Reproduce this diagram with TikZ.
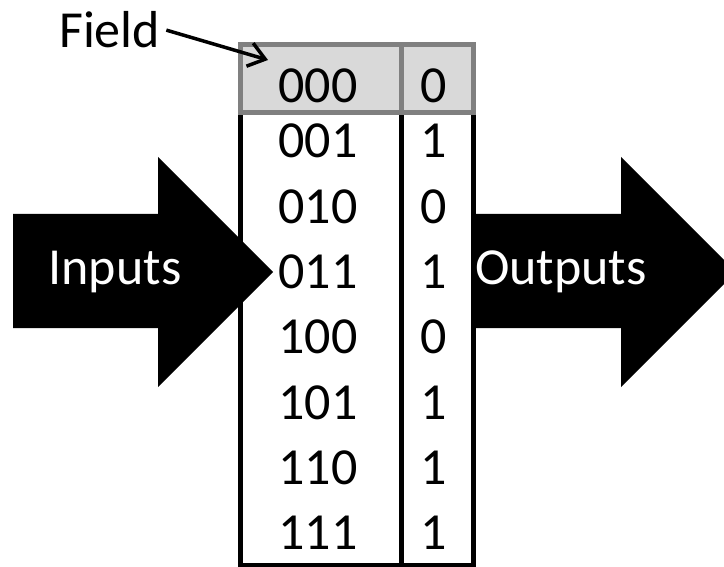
\documentclass[tikz,border=0pt]{standalone}
\usepackage{fontspec}
\setmainfont{Carlito}
\usetikzlibrary{arrows.meta}

\begin{document}
\begin{tikzpicture}[x = 1pt, y = -1pt,
    cellfont/.style = {font = \fontsize{52}{62}\selectfont, inner sep = 0pt, anchor = base},
    ]
    \useasboundingbox (0, 0) rectangle (724, 567);

    %%%%%%%%%% truth table %%%%%%%%%%%%%%%%%%%
    \draw [line width = 5pt, fill = white] (240, 113) rectangle (473, 565);
    \draw [line width = 5pt] (401, 113) -- (401, 565);
    % header row
    \draw [line width = 5pt, draw = black!50, fill = black!15] (240, 45) rectangle (473, 113);
    \draw [line width = 5pt, draw = black!50] (401, 45) -- (401, 113);
    \node [cellfont] (in0) at (318, 103) {000};
    \node [cellfont] (out0) at (434, 103) {0};

    \foreach \x/\y [count = \z] in {001/1, 010/0, 011/1, 100/0, 101/1, 110/1, 111/1} {
        \node [cellfont] (in\z) at (318, {158 + 65.3*(\z-1)}) {\x};
        \node [cellfont] (out\z) at (434, {158 + 65.3*(\z-1)}) {\y};
        }

    %%%%%%%%%% big arrows %%%%%%%%%%%%%%%%%%%
    \fill (13, 214) -- (158, 214) -- (158, 157) -- (273, 272) -- (158, 387) -- (158, 328) -- (13, 328) -- cycle;
    \node [cellfont, text = white] (inputs) at (115, 285) {Inputs};

    \fill (472, 214) -- (621, 214) -- (621, 157) -- (724, 260) -- (724, 284) -- (621, 387) -- (621, 328) -- (472, 328) -- cycle;
    \node [cellfont, text = white] (outputs) at (561, 285) {Outputs};

    %%%%%%%%%% field label %%%%%%%%%%%%%%%%%%%
    \node [cellfont, anchor = base west] (field) at (59, 48) {Field};
    \coordinate (fieldtip) at (268, 60);
    \draw [-{Straight Barb[length = 16pt, width = 24pt]}, line width = 3.5pt] ([xshift = 6pt] field.east) -- (fieldtip);
\end{tikzpicture}
\end{document}
